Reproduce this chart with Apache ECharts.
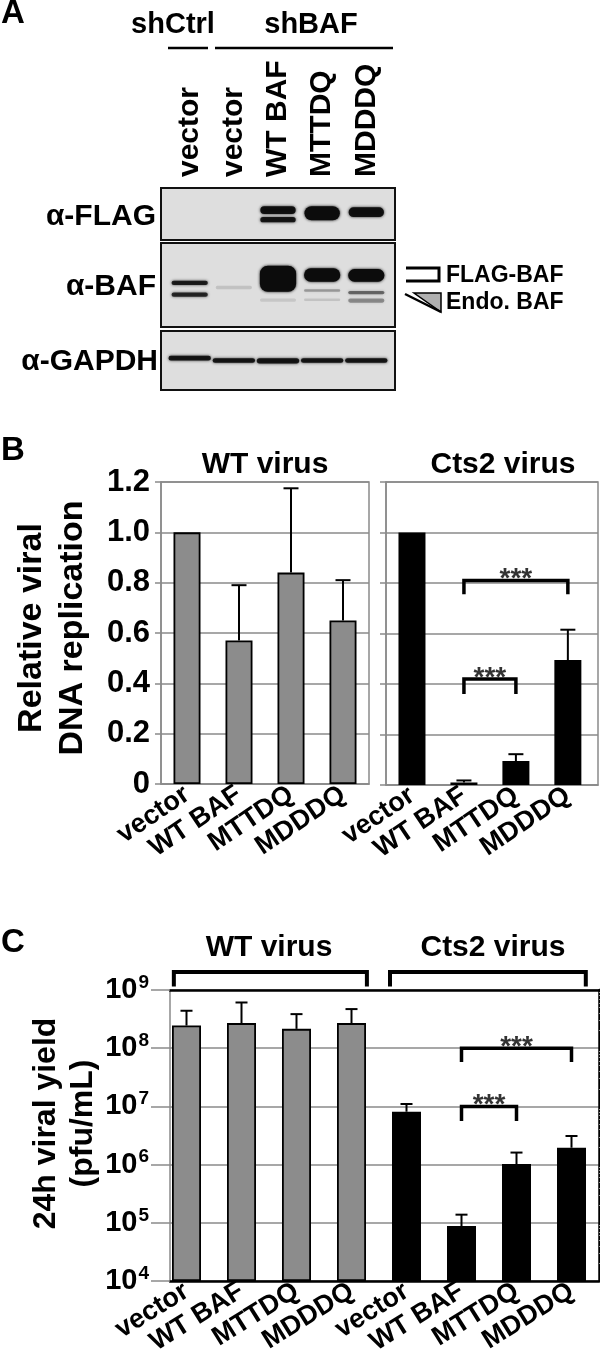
<!DOCTYPE html>
<html>
<head>
<meta charset="utf-8">
<script src="https://cdn.jsdelivr.net/npm/echarts@6/dist/echarts.min.js"></script>
<style>
html, body { margin: 0; padding: 0; background: #fff; }
#chart { width: 600px; height: 1371px; }
</style>
</head>
<body>
<div id="chart"></div>
<script>
const FONT = '"Liberation Sans", Arial, sans-serif';

// A: western blot, five lanes
const laneNames = ['vector', 'vector', 'WT BAF', 'MTTDQ', 'MDDDQ'];
// bands: [lane, top, bottom, signal], top/bottom = migration inside the strip (0..1)
const flagBands = [
  [2, 0.35, 0.50, 0.95], [2, 0.56, 0.66, 0.9],
  [3, 0.35, 0.62, 1.0],
  [4, 0.37, 0.56, 0.95]
];
const bafBands = [
  [0, 0.45, 0.50, 0.85], [0, 0.59, 0.64, 0.8],
  [1, 0.51, 0.55, 0.12],
  [2, 0.27, 0.58, 1.0], [2, 0.66, 0.70, 0.1],
  [3, 0.30, 0.46, 1.0], [3, 0.55, 0.58, 0.3], [3, 0.66, 0.69, 0.12],
  [4, 0.31, 0.46, 1.0], [4, 0.57, 0.61, 0.5], [4, 0.66, 0.71, 0.35]
];
const gapdhBands = [
  [0, 0.42, 0.50, 0.9], [1, 0.46, 0.54, 0.9], [2, 0.46, 0.55, 0.9],
  [3, 0.46, 0.54, 0.9], [4, 0.46, 0.54, 0.9]
];

// B: relative viral DNA replication
const bCats = ['vector', 'WT BAF', 'MTTDQ', 'MDDDQ'];
const wtRel = [1.0, 0.57, 0.84, 0.65];
const wtRelSd = [0, 0.22, 0.335, 0.16];
const ctsRel = [1.0, 0.01, 0.095, 0.495];
const ctsRelSd = [0, 0.008, 0.027, 0.12];
// [from, to, bracket level, tip level]
const ctsRelSig = [[1, 3, 0.81, 0.755], [1, 2, 0.42, 0.36]];

// C: 24h viral yield (pfu/mL)
const cCats = ['vector', 'WT BAF', 'MTTDQ', 'MDDDQ', 'vector', 'WT BAF', 'MTTDQ', 'MDDDQ'];
const yieldMean = [2.45e8, 2.7e8, 2.15e8, 2.7e8, 8.1e6, 8.8e4, 1.02e6, 1.95e6];
const yieldSd = [1.95e8, 3.4e8, 1.7e8, 2.0e8, 2.9e6, 5.0e4, 5.9e5, 1.15e6];
const yieldSig = [[5, 7, 1e8, 5.8e7], [5, 6, 1e7, 5.6e6]];
const virusGroups = [[-0.23, 3.28], [3.7, 7.26]];

const GRAY = '#8c8c8c';
const GRID = '#8a8a8a';
const grayBar = { color: GRAY, borderColor: '#000', borderWidth: 1.8 };
const blackBar = { color: '#000' };

const minorTicks = [];
for (let e = 4; e < 9; e++) {
  for (let k = 2; k <= 9; k++) minorTicks.push(k * Math.pow(10, e));
}

function txt(text, x, y, size, align) {
  return {
    type: 'text', x: x, y: y,
    style: {
      text: text, font: 'bold ' + size + 'px ' + FONT, fill: '#000',
      textAlign: align || 'left', textVerticalAlign: 'middle'
    }
  };
}

function bandItem(widthFrac) {
  return function (params, api) {
    const lane = api.value(0);
    const p1 = api.coord([lane, api.value(1)]);
    const p2 = api.coord([lane, api.value(2)]);
    const w = api.size([1, 0])[0] * widthFrac;
    const h = p2[1] - p1[1];
    const c = 'rgba(12,12,12,' + api.value(3) + ')';
    return {
      type: 'rect',
      shape: { x: p1[0] - w / 2, y: p1[1], width: w, height: h, r: Math.min(h / 2, 8) },
      style: { fill: c, shadowBlur: 3, shadowColor: c }
    };
  };
}

function errItem(cap) {
  return function (params, api) {
    const x = api.value(0);
    const a = api.coord([x, api.value(1)]);
    const b = api.coord([x, api.value(2)]);
    const st = { stroke: '#000', lineWidth: 2 };
    return {
      type: 'group',
      children: [
        { type: 'line', shape: { x1: a[0], y1: a[1], x2: b[0], y2: b[1] }, style: st },
        { type: 'line', shape: { x1: b[0] - cap / 2, y1: b[1], x2: b[0] + cap / 2, y2: b[1] }, style: st }
      ]
    };
  };
}

function errData(mean, sd) {
  return mean.map((m, i) => [i, m, m + sd[i]]).filter((d, i) => sd[i] > 0);
}

function sigSeries(list, xi, yi) {
  const out = [];
  list.forEach(s => {
    out.push({
      type: 'line', xAxisIndex: xi, yAxisIndex: yi, symbol: 'none', z: 4,
      lineStyle: { color: '#000', width: 3.5, join: 'miter' },
      data: [[s[0], s[3]], [s[0], s[2]], [s[1], s[2]], [s[1], s[3]]]
    });
  });
  out.push({
    type: 'scatter', xAxisIndex: xi, yAxisIndex: yi, symbol: 'circle', symbolSize: 2, z: 5,
    itemStyle: { color: 'rgba(0,0,0,0)' },
    label: {
      show: true, position: 'inside', offset: [0, -1], formatter: '***',
      fontSize: 28, fontWeight: 'bold', fontFamily: FONT, color: '#000'
    },
    data: list.map(s => [(s[0] + s[1]) / 2, s[2]])
  });
  return out;
}

const blotGrid = { left: 161, width: 234, show: true, backgroundColor: '#dedede', borderColor: '#111', borderWidth: 2, outerBoundsMode: 'none' };
const hiddenLane = { type: 'value', min: -0.65, max: 4.65, show: false };
const xLabel = {
  margin: 8, fontSize: 27, fontWeight: 'bold', fontFamily: FONT, color: '#000',
  showMinLabel: true, showMaxLabel: true
};
const relY = {
  type: 'value', min: 0, max: 1.2, interval: 0.2,
  axisLine: { show: true, onZero: false, lineStyle: { color: GRID, width: 1.5 } },
  axisTick: { show: true, length: 6, lineStyle: { color: GRID, width: 1.5 } },
  splitLine: { show: true, lineStyle: { color: GRID, width: 1.5 } }
};
const logY = { type: 'log', logBase: 10, min: 1e4, max: 1e9, gridIndex: 5, startValue: 1e4 };

const chart = echarts.init(document.getElementById('chart'), null, { renderer: 'canvas' });
chart.setOption({
  animation: false,
  backgroundColor: '#fff',
  textStyle: { fontFamily: FONT },
  grid: [
    Object.assign({ top: 188, height: 52 }, blotGrid),
    Object.assign({ top: 243, height: 84 }, blotGrid),
    Object.assign({ top: 331, height: 59 }, blotGrid),
    { left: 161, top: 482, width: 208, height: 302, show: true, borderColor: GRID, borderWidth: 1.5, outerBoundsMode: 'none' },
    { left: 386, top: 482, width: 212, height: 303, show: true, borderColor: GRID, borderWidth: 1.5, outerBoundsMode: 'none' },
    { left: 170, top: 990, width: 429, height: 291, outerBoundsMode: 'none' }
  ],
  xAxis: [
    {
      type: 'value', gridIndex: 0, min: -0.65, max: 4.65, position: 'top',
      axisLine: { show: false, onZero: false }, axisTick: { show: false }, splitLine: { show: false },
      axisLabel: {
        customValues: [0, 1, 2, 3, 4], formatter: v => laneNames[v],
        rotate: -90, margin: 11, fontSize: 30, fontWeight: 'bold', fontFamily: FONT, color: '#000',
        showMinLabel: true, showMaxLabel: true
      }
    },
    Object.assign({ gridIndex: 1 }, hiddenLane),
    Object.assign({ gridIndex: 2 }, hiddenLane),
    {
      type: 'value', gridIndex: 3, min: -0.5, max: 3.5,
      axisLine: { show: true, onZero: false, lineStyle: { color: GRID, width: 1.5 } },
      axisTick: { show: false }, splitLine: { show: false },
      axisLabel: Object.assign({ customValues: [0, 1, 2, 3], formatter: v => bCats[v], rotate: 34 }, xLabel)
    },
    {
      type: 'value', gridIndex: 4, min: -0.5, max: 3.58,
      axisLine: { show: true, onZero: false, lineStyle: { color: GRID, width: 1.5 } },
      axisTick: { show: false }, splitLine: { show: false },
      axisLabel: Object.assign({ customValues: [0, 1, 2, 3], formatter: v => bCats[v], rotate: 34 }, xLabel)
    },
    {
      type: 'value', gridIndex: 5, min: -0.3, max: 7.5,
      axisLine: { show: true, onZero: false, lineStyle: { color: '#000', width: 2.5 } },
      axisTick: { show: false }, splitLine: { show: false },
      axisLabel: Object.assign({ customValues: [0, 1, 2, 3, 4, 5, 6, 7], formatter: v => cCats[v], rotate: 32 }, xLabel)
    },
    {
      type: 'value', gridIndex: 5, min: -0.3, max: 7.5, position: 'top',
      axisLine: { show: true, onZero: false, lineStyle: { color: '#000', width: 2.5 } },
      axisTick: { show: false }, axisLabel: { show: false }, splitLine: { show: false }
    }
  ],
  yAxis: [
    { type: 'value', gridIndex: 0, min: 0, max: 1, inverse: true, show: false },
    { type: 'value', gridIndex: 1, min: 0, max: 1, inverse: true, show: false },
    { type: 'value', gridIndex: 2, min: 0, max: 1, inverse: true, show: false },
    Object.assign({
      gridIndex: 3,
      axisLabel: {
        margin: 11, fontSize: 31, fontWeight: 'bold', fontFamily: FONT, color: '#000',
        formatter: v => (v === 0 ? '0' : v.toFixed(1))
      },
      name: 'Relative viral\nDNA replication', nameLocation: 'middle', nameGap: 68, nameMoveOverlap: false,
      nameTextStyle: { fontSize: 34, fontWeight: 'bold', fontFamily: FONT, color: '#000', lineHeight: 41, padding: [0, 0, 0, 10] }
    }, relY),
    Object.assign({ gridIndex: 4, axisLabel: { show: false } }, relY),
    Object.assign({
      axisLine: { show: true, onZero: false, lineStyle: { color: GRID, width: 1.5 } },
      axisTick: { show: true, length: 19, lineStyle: { color: GRID, width: 1.5 } },
      splitLine: { show: true, lineStyle: { color: GRID, width: 1.5 } },
      axisLabel: {
        margin: 21,
        formatter: v => '{b|10}{s|' + Math.round(Math.log10(v)) + '}',
        rich: {
          b: { fontSize: 29, fontWeight: 'bold', fontFamily: FONT, color: '#000', lineHeight: 34 },
          s: { fontSize: 19, fontWeight: 'bold', fontFamily: FONT, color: '#000', verticalAlign: 'top', padding: [0, 0, 0, 1] }
        }
      },
      name: '24h viral yield\n(pfu/mL)', nameLocation: 'middle', nameGap: 68, nameMoveOverlap: false,
      nameTextStyle: { fontSize: 32, fontWeight: 'bold', fontFamily: FONT, color: '#000', lineHeight: 37, padding: [0, 0, 0, 24] }
    }, logY),
    Object.assign({
      axisLine: { show: false, onZero: false },
      axisTick: { show: true, customValues: minorTicks, length: 9, lineStyle: { color: GRID, width: 1.2 } },
      axisLabel: { show: false }, splitLine: { show: false }
    }, logY),
    Object.assign({
      position: 'right',
      axisLine: { show: true, onZero: false, lineStyle: { color: '#000', width: 2.5 } },
      axisTick: { show: false }, axisLabel: { show: false }, splitLine: { show: false }
    }, logY)
  ],
  series: [
    { type: 'custom', xAxisIndex: 0, yAxisIndex: 0, renderItem: bandItem(0.8), encode: { x: 0, y: [1, 2] }, data: flagBands },
    { type: 'custom', xAxisIndex: 1, yAxisIndex: 1, renderItem: bandItem(0.82), encode: { x: 0, y: [1, 2] }, data: bafBands },
    { type: 'custom', xAxisIndex: 2, yAxisIndex: 2, renderItem: bandItem(0.96), encode: { x: 0, y: [1, 2] }, data: gapdhBands },

    { type: 'bar', xAxisIndex: 3, yAxisIndex: 3, barWidth: 27, itemStyle: grayBar, data: wtRel.map((v, i) => [i, v]) },
    { type: 'custom', xAxisIndex: 3, yAxisIndex: 3, z: 3, renderItem: errItem(15), encode: { x: 0, y: [1, 2] }, data: errData(wtRel, wtRelSd) },
    { type: 'bar', xAxisIndex: 4, yAxisIndex: 4, barWidth: 27, itemStyle: blackBar, data: ctsRel.map((v, i) => [i, v]) },
    { type: 'custom', xAxisIndex: 4, yAxisIndex: 4, z: 3, renderItem: errItem(15), encode: { x: 0, y: [1, 2] }, data: errData(ctsRel, ctsRelSd) },
    ...sigSeries(ctsRelSig, 4, 4),

    {
      type: 'bar', xAxisIndex: 5, yAxisIndex: 5, barWidth: 29, clip: true,
      data: yieldMean.map((v, i) => ({ value: [i, v], itemStyle: i < 4 ? grayBar : blackBar }))
    },
    { type: 'custom', xAxisIndex: 5, yAxisIndex: 5, z: 3, renderItem: errItem(12), encode: { x: 0, y: [1, 2] }, data: errData(yieldMean, yieldSd) },
    ...sigSeries(yieldSig, 5, 5),
    ...virusGroups.map(g => ({
      type: 'line', xAxisIndex: 5, yAxisIndex: 5, symbol: 'none', clip: false,
      lineStyle: { color: '#000', width: 4, join: 'miter' },
      data: [[g[0], 1.15e9], [g[0], 2.04e9], [g[1], 2.04e9], [g[1], 1.15e9]]
    }))
  ],
  graphic: [
    txt('A', 1, 14, 33),
    txt('shCtrl', 173, 25, 29, 'center'),
    txt('shBAF', 311, 25, 29, 'center'),
    { type: 'line', shape: { x1: 168, y1: 48, x2: 208, y2: 48 }, style: { stroke: '#000', lineWidth: 2.5 } },
    { type: 'line', shape: { x1: 215, y1: 48, x2: 393, y2: 48 }, style: { stroke: '#000', lineWidth: 2.5 } },
    txt('α-FLAG', 156, 217, 30, 'right'),
    txt('α-BAF', 156, 287, 30, 'right'),
    txt('α-GAPDH', 158, 362, 30, 'right'),
    { type: 'polyline', shape: { points: [[406, 268], [439, 268], [439, 281], [406, 281]] }, style: { stroke: '#000', lineWidth: 3, fill: null } },
    { type: 'polygon', shape: { points: [[414, 293], [441, 293], [441, 312]] }, style: { fill: '#b0b0b0', stroke: '#000', lineWidth: 1.5 } },
    { type: 'line', shape: { x1: 405, y1: 294, x2: 441, y2: 312 }, style: { stroke: '#000', lineWidth: 2.5 } },
    txt('FLAG-BAF', 446, 276, 23),
    txt('Endo. BAF', 446, 303, 23),
    txt('B', 1, 451, 33),
    txt('WT virus', 265, 465, 30, 'center'),
    txt('Cts2 virus', 503, 465, 30, 'center'),
    txt('C', 1, 943, 33),
    txt('WT virus', 269, 948, 30, 'center'),
    txt('Cts2 virus', 493, 948, 30, 'center')
  ]
});
</script>
</body>
</html>
